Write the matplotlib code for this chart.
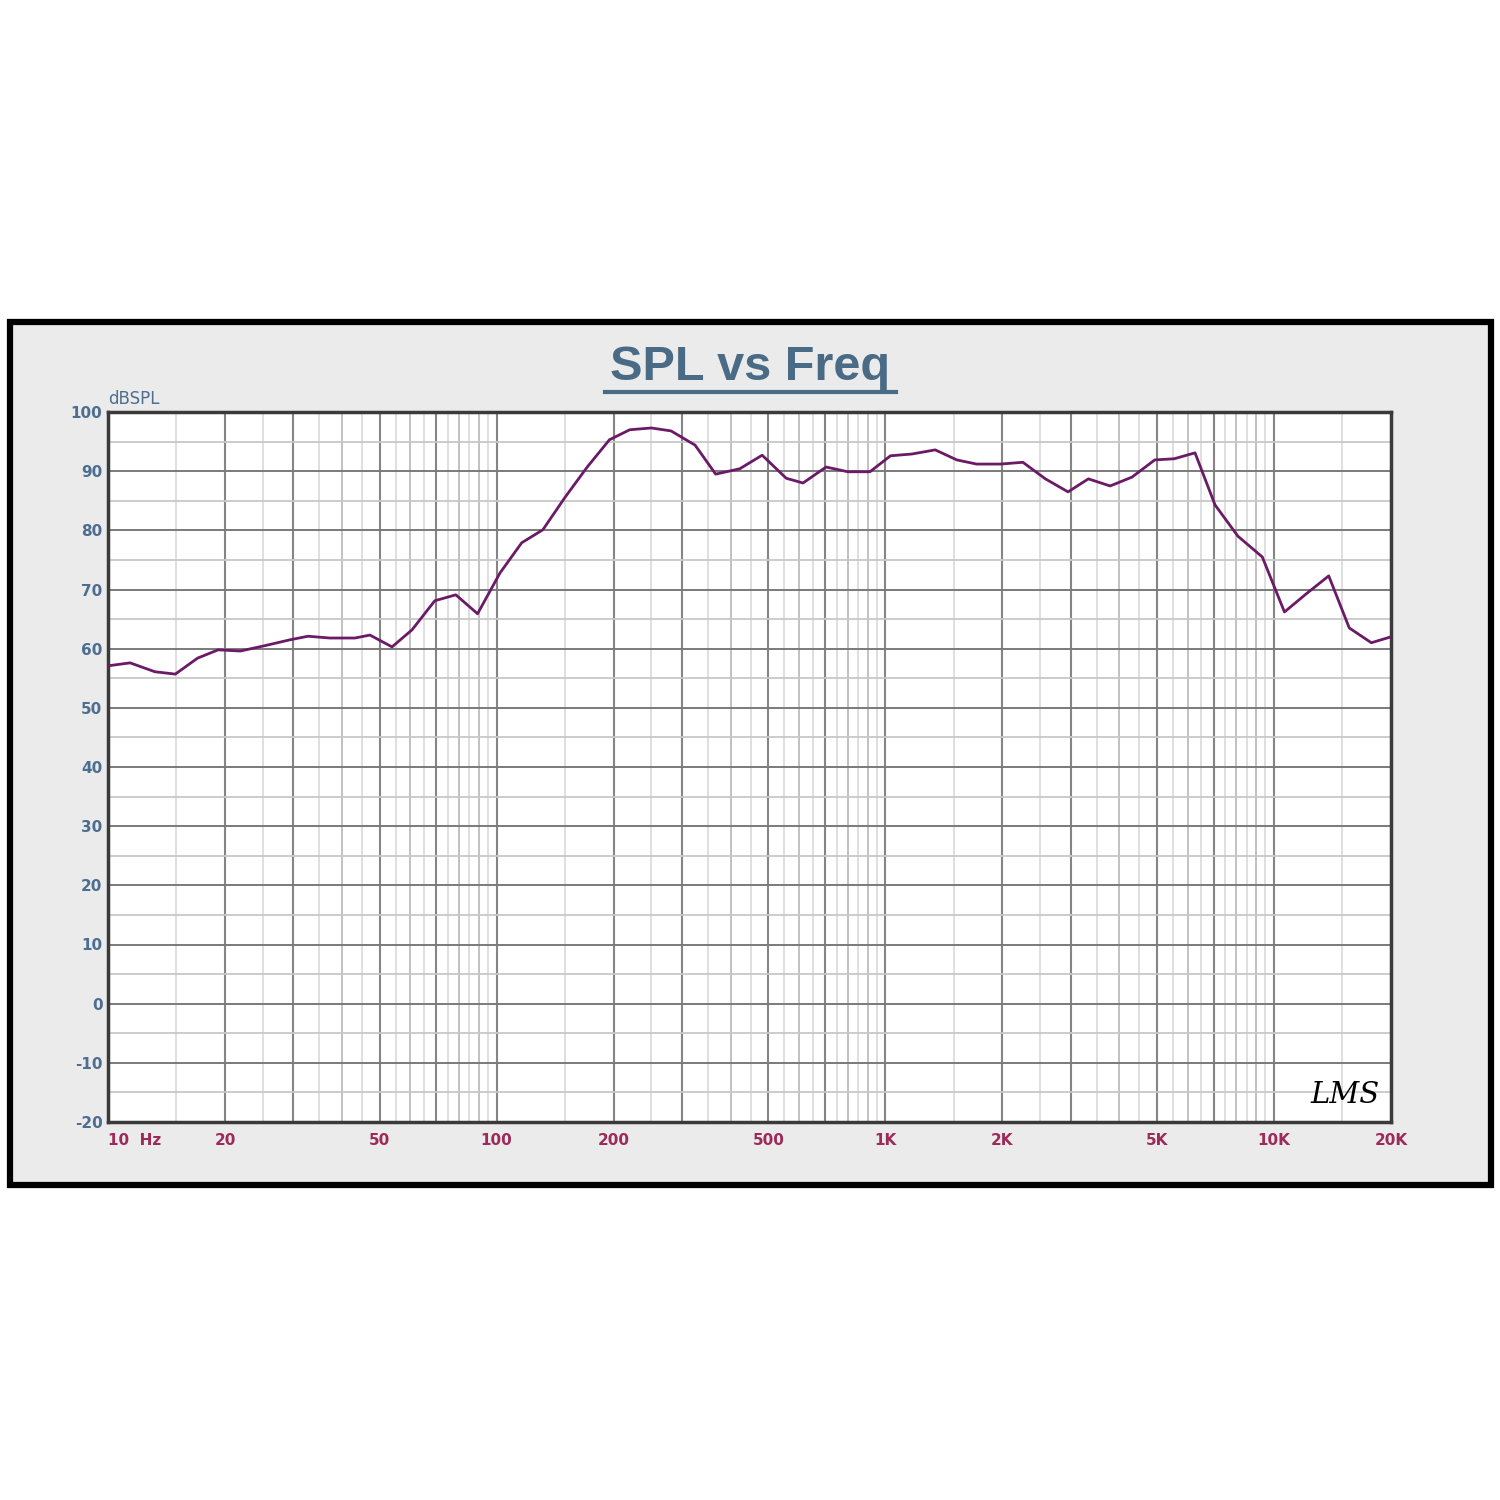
import numpy as np
import matplotlib
matplotlib.use("Agg")
import matplotlib.pyplot as plt
from matplotlib.patches import Rectangle
from matplotlib.lines import Line2D

# frequency response
freq = [10, 11.4, 13.2, 14.9, 17.0, 19.2, 21.9, 25.3, 29.4, 32.7, 37.2, 43.2, 47.2,
        53.8, 60.6, 69.3, 78.5, 89.3, 102, 116, 131.5, 150, 171, 195, 220, 250,
        281, 324, 366, 422, 482, 556, 614, 704, 801, 913, 1031, 1171, 1344, 1527,
        1717, 1976, 2259, 2581, 2952, 3330, 3788, 4313, 4934, 5541, 6263, 7051,
        8078, 9330, 10640, 12070, 13830, 15620, 17800, 20000]
spl = [57.1, 57.6, 56.1, 55.7, 58.4, 59.8, 59.6, 60.5, 61.5, 62.1, 61.8, 61.8, 62.3,
       60.3, 63.2, 68.1, 69.1, 65.9, 72.8, 77.9, 80.1, 85.6, 90.7, 95.3, 97.0, 97.3,
       96.8, 94.4, 89.5, 90.4, 92.7, 88.8, 88.0, 90.7, 89.9, 89.9, 92.6, 92.9, 93.6, 91.9,
       91.2, 91.2, 91.5, 88.7, 86.5, 88.7, 87.5, 89.0, 91.9, 92.1, 93.1, 84.3,
       79.0, 75.5, 66.2, 69.2, 72.3, 63.5, 61.0, 62.0]

xticks = [10, 20, 50, 100, 200, 500, 1000, 2000, 5000, 10000, 20000]
xlabels = ["10  Hz", "20", "50", "100", "200", "500", "1K", "2K", "5K", "10K", "20K"]
yticks = list(range(-20, 101, 10))

fig = plt.figure(figsize=(15, 15), dpi=100)
fig.patch.set_facecolor("white")

# grey panel with heavy black frame
panel = Rectangle((10 / 1500, 1 - 1185 / 1500), 1481 / 1500, 863 / 1500,
                  transform=fig.transFigure, facecolor="#ebebeb",
                  edgecolor="black", linewidth=4.5, zorder=0)
fig.add_artist(panel)

ax = fig.add_axes([108 / 1500, 1 - 1122 / 1500, 1283 / 1500, 710 / 1500])
ax.set_facecolor("white")
ax.set_xscale("log")
ax.set_xlim(10, 20000)
ax.set_ylim(-20, 100)

# grid lines
for dec in [10, 100, 1000, 10000]:
    for m in [1.5, 2, 2.5, 3, 3.5, 4, 4.5, 5, 5.5, 6, 6.5, 7, 7.5, 8, 8.5, 9, 9.5, 10]:
        f = dec * m
        if f >= 20000:
            continue
        if m in (2, 3, 5, 7, 10):
            ax.axvline(f, color="#858585", lw=1.5, zorder=1)
        elif m in (4, 6, 8, 9):
            ax.axvline(f, color="#bcbcbc", lw=1.3, zorder=1)
        else:
            ax.axvline(f, color="#dcdcdc", lw=1.3, zorder=1)
for v in range(-15, 100, 5):
    if v % 10 == 0:
        ax.axhline(v, color="#7a7a7a", lw=1.4, zorder=1)
    else:
        ax.axhline(v, color="#c8c8c8", lw=1.3, zorder=1)

ax.plot(freq, spl, color="#6a1a66", lw=2.0, zorder=3)

for s in ax.spines.values():
    s.set_color("#3a3a3a")
    s.set_linewidth(2.5)

ax.set_xticks(xticks)
ax.set_xticklabels(xlabels)
ax.xaxis.set_minor_locator(matplotlib.ticker.NullLocator())
ax.set_yticks(yticks)
ax.set_yticklabels([str(v) for v in yticks])
ax.tick_params(axis="x", length=0, pad=8, labelsize=11, labelcolor="#9c2a5a")
ax.tick_params(axis="y", length=0, pad=4, labelsize=11, labelcolor="#4d6e90")
for lab in ax.get_xticklabels():
    lab.set_fontweight("bold")
ax.get_xticklabels()[0].set_horizontalalignment("left")
for lab in ax.get_yticklabels():
    lab.set_fontweight("bold")

ax.text(0.0, 1.006, "dBSPL", transform=ax.transAxes, fontsize=12,
        color="#4d6e90", ha="left", va="bottom")

fig.text(0.5, 1 - 368 / 1500, "SPL vs Freq", ha="center", va="center",
         fontsize=35, fontweight="bold", color="#4a6b85",
         family="Liberation Sans")
fig.add_artist(Line2D([605 / 1500, 896 / 1500], [1 - 392 / 1500, 1 - 392 / 1500],
                      transform=fig.transFigure, color="#4a6b85", lw=3))

ax.text(0.964, 0.038, "LMS", transform=ax.transAxes, fontsize=21,
        style="italic", color="black", ha="center", va="center",
        family="DejaVu Serif", zorder=4)

fig.savefig("out.png", dpi=100, facecolor="white")
